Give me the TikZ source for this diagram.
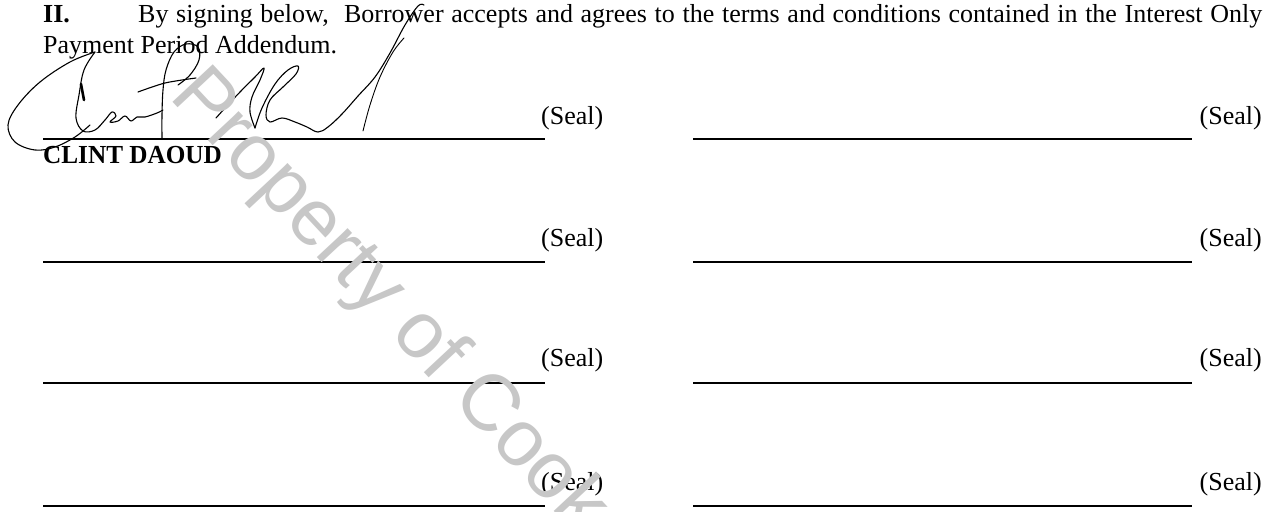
\documentclass[tikz,border=0pt]{standalone}
\usepackage{fontspec}
\setmainfont{Liberation Serif}
\newfontfamily\wmfont{Liberation Sans}
\usepackage{graphicx}
\begin{document}
\begin{tikzpicture}[x=1pt,y=-1pt,
  body/.style={anchor=base west,inner sep=0pt,font=\fontsize{26}{30}\selectfont},
  sealtxt/.style={inner sep=0pt,font=\fontsize{26}{30}\selectfont},
  sigline/.style={line width=1.6pt,black},
  sig/.style={line width=1.1pt,black,line cap=round,line join=round},
  wmark/.style={inner sep=0pt,text=black!22,font=\wmfont\fontsize{80}{82}\selectfont,rotate=-47}]
\useasboundingbox (0,0) rectangle (1268,511);
\fill[white] (0,0) rectangle (1268,511);
% heading text
\node[body] (ii) at (43,23) {\textbf{II.}};
\node[body] (l1) at (138,23) {\makebox[1124pt][s]{By signing below,\ \ Borrower accepts and agrees to the terms and conditions contained in the Interest Only}};
\node[body] (l2) at (43,53) {Payment Period Addendum.};
% signature lines
\coordinate (a1) at (43,139);  \coordinate (b1) at (545,139);
\coordinate (a2) at (43,262);  \coordinate (b2) at (545,262);
\coordinate (a3) at (43,383);  \coordinate (b3) at (545,383);
\coordinate (a4) at (43,506);  \coordinate (b4) at (545,506);
\coordinate (c1) at (693,139); \coordinate (d1) at (1192,139);
\coordinate (c2) at (693,262); \coordinate (d2) at (1192,262);
\coordinate (c3) at (693,383); \coordinate (d3) at (1192,383);
\coordinate (c4) at (693,506); \coordinate (d4) at (1192,506);
\draw[sigline] (a1) -- (b1); \draw[sigline] (a2) -- (b2);
\draw[sigline] (a3) -- (b3); \draw[sigline] (a4) -- (b4);
\draw[sigline] (c1) -- (d1); \draw[sigline] (c2) -- (d2);
\draw[sigline] (c3) -- (d3); \draw[sigline] (c4) -- (d4);
% seals
\node[sealtxt,anchor=base west] (sl1) at (541,124) {(Seal)};
\node[sealtxt,anchor=base west] (sl2) at (541,246) {(Seal)};
\node[sealtxt,anchor=base west] (sl3) at (541,366) {(Seal)};
\node[sealtxt,anchor=base west] (sl4) at (541,490) {(Seal)};
\node[sealtxt,anchor=base east] (sr1) at (1262,124) {(Seal)};
\node[sealtxt,anchor=base east] (sr2) at (1262,246) {(Seal)};
\node[sealtxt,anchor=base east] (sr3) at (1262,366) {(Seal)};
\node[sealtxt,anchor=base east] (sr4) at (1262,490) {(Seal)};
% name
\node[body] (name) at (43,163) {\scalebox{0.97}[1]{\textbf{CLINT DAOUD}}};
% signature
\draw[sig] plot[smooth,tension=0.6] coordinates {(95,52) (70,62) (40,82) (18,105) (8,125) (15,142) (35,150) (55,147) (75,137) (90,125)};
\draw[sig] plot[smooth,tension=0.6] coordinates {(95,52) (84,70) (79,95) (76,118) (83,131) (95,130) (105,120) (112,112) (116,116) (110,122) (118,121) (125,116) (131,121) (137,117) (145,117) (157,113) (163,110)};
\draw[line width=2.6pt,line cap=round] (81,84) -- (84,100);
\draw[sig] plot[smooth,tension=0.6] coordinates {(162,139) (162,115) (163,90) (166,70) (174,52) (186,44) (198,47) (199,60) (190,75) (178,85)};
\draw[sig] plot[smooth,tension=0.5] coordinates {(138,92) (165,83) (196,78)};
\draw[sig] plot[smooth,tension=0.6] coordinates {(216,118) (226,107) (240,92) (255,77) (264,68) (260,80) (252,97) (250,112) (255,128)};
\draw[sig] plot[smooth,tension=0.6] coordinates {(255,128) (262,108) (275,84) (288,70) (298,66) (296,74) (283,87) (270,100) (266,115) (270,122) (282,118) (295,122) (307,127) (318,132) (328,127) (342,114) (358,96) (375,77) (390,53) (405,25) (418,6) (424,5)};
\draw[sig,line width=0.9pt] plot[smooth,tension=0.6] coordinates {(363,131) (370,105) (380,77) (393,52) (404,38)};
% watermark
\node[wmark] (wm) at (388,303) {Property of Cook};
\end{tikzpicture}
\end{document}
